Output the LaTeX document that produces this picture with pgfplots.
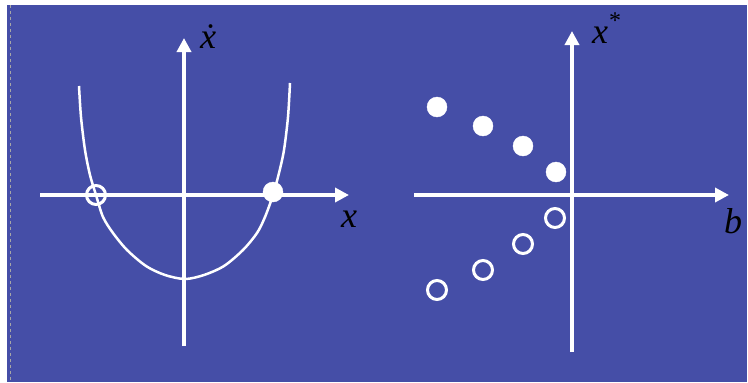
\documentclass[border=0pt]{standalone}
\usepackage{pgfplots}
\pgfplotsset{compat=1.18}
\usetikzlibrary{arrows.meta}
\usepackage{fontspec}
\setmainfont{Liberation Serif}
\definecolor{slide}{HTML}{454EA7}

% one axis per panel, 1 unit = 1 px of the reference
\pgfplotsset{phase/.style={
  x=1pt, y=1pt, axis lines=middle, enlargelimits=false, clip=false,
  xtick=\empty, ytick=\empty,
  axis line style={white, line width=3.8pt, -{Triangle[length=14pt,width=14pt]}},
  anchor=origin,
}}
\newcommand{\lbl}{\fontsize{36}{36}\selectfont\itshape}

\begin{document}
\begin{tikzpicture}
\fill[white] (0,0) rectangle (748pt,-383pt);
\fill[slide] (7pt,-5pt) rectangle (747pt,-382pt);
\draw[gray!70, dashed, line width=0.6pt] (10pt,-5pt) -- (10pt,-382pt);

% left panel: xdot against x
\begin{axis}[phase, at={(184pt,-195pt)}, xmin=-144, xmax=165, ymin=-151, ymax=157]
\addplot[white, line width=2.5pt, smooth] coordinates {
  (-105,109) (-103,78) (-99,45) (-94,20) (-88,0) (-81,-22) (-71,-38)
  (-57,-55) (-38,-71) (-19,-80) (1,-84) (20,-80) (40,-71) (59,-55)
  (73,-38) (81,-22) (89,0) (95,22) (100,45) (104,78) (106,112)
};
\addplot[only marks, mark=*, mark size=10pt, white] coordinates {(89,3)};
\addplot[only marks, mark=o, mark size=9.5pt, white, line width=3pt] coordinates {(-88,0)};
\node[anchor=base, inner sep=0pt, text=black] at (axis cs:24,147) {\lbl \.{x}};
\node[anchor=base, inner sep=0pt, text=black] at (axis cs:165,-32) {\lbl x};
\end{axis}

% right panel: fixed points against b
\begin{axis}[phase, at={(572pt,-195pt)}, xmin=-158, xmax=157, ymin=-157, ymax=164]
\addplot[only marks, mark=*, mark size=10pt, white] coordinates {
  (-135,88) (-89,69) (-49,49) (-16,23)
};
\addplot[only marks, mark=o, mark size=9.5pt, white, line width=3pt] coordinates {
  (-17,-23) (-49,-49) (-89,-75) (-135,-95)
};
\node[anchor=base, inner sep=0pt, text=black] at (axis cs:28,152) {\lbl x};
\node[anchor=north, inner sep=0pt, text=black] at (axis cs:43,182) {\fontsize{24}{24}\selectfont *};
\node[anchor=base, inner sep=0pt, text=black] at (axis cs:161,-38) {\lbl b};
\end{axis}
\end{tikzpicture}
\end{document}
